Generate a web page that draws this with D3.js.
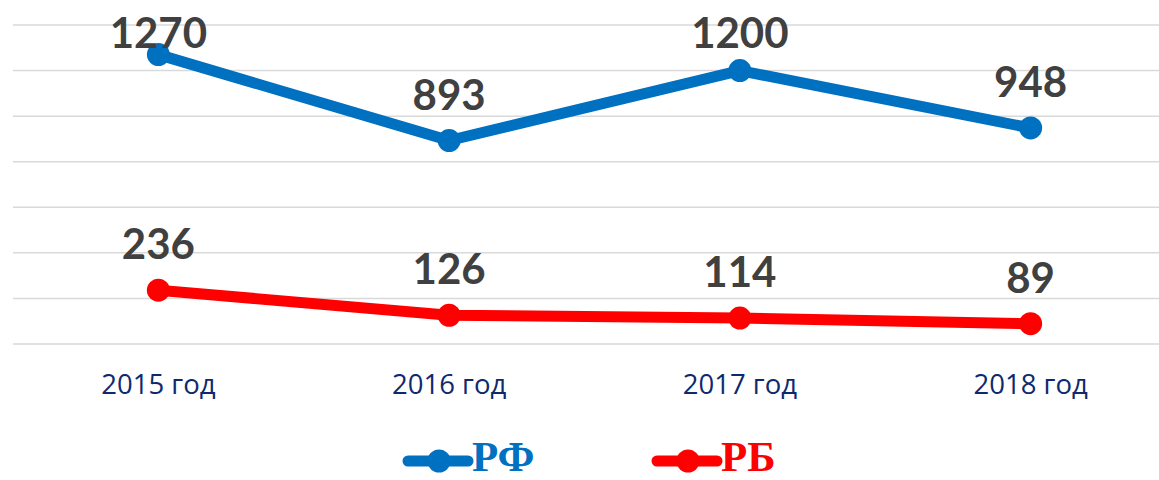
<!DOCTYPE html>
<html>
<head>
<meta charset="utf-8">
<script src="https://cdn.jsdelivr.net/npm/d3@7"></script>
<style>
  body { margin: 0; background: #fff; }
</style>
</head>
<body>
<script>
// data
const years = ["2015 год", "2016 год", "2017 год", "2018 год"];
const rfValues = [1270, 893, 1200, 948];
const rbValues = [236, 126, 114, 89];
const seriesNames = ["РФ", "РБ"];
const seriesColors = ["#0070c0", "#ff0000"];
const gridTicks = [0, 200, 400, 600, 800, 1000, 1200, 1400];

const w = 1159;
const h = 480;

const svg = d3.select("body").append("svg").attr("width", w).attr("height", h);

const x = d3.scaleBand().domain(years).range([13, 1176]);
const y = d3.scaleLinear().domain([0, 1400]).range([344, 25]);
const cx = (d) => x(d) + x.bandwidth() / 2;

// gridlines
svg
  .selectAll("line.grid")
  .data(gridTicks)
  .enter()
  .append("line")
  .attr("class", "grid")
  .attr("x1", 13)
  .attr("x2", w)
  .attr("y1", (d) => y(d))
  .attr("y2", (d) => y(d))
  .attr("stroke", "#d9d9d9")
  .attr("stroke-width", 1.5);

// category axis
const xAxis = svg
  .append("g")
  .attr("transform", "translate(0,344)")
  .call(d3.axisBottom(x).tickSize(0).tickPadding(0));
xAxis.select(".domain").remove();
xAxis
  .selectAll("text")
  .attr("y", 50)
  .attr("dy", null)
  .attr("font-family", "'Open Sans', 'Noto Sans', sans-serif")
  .attr("font-size", 27.5)
  .attr("fill", "#0e2a6e");

const series = [rfValues, rbValues].map((vals, i) => ({
  name: seriesNames[i],
  color: seriesColors[i],
  points: years.map((yr, j) => ({ year: yr, value: vals[j] })),
}));

const line = d3
  .line()
  .x((d) => cx(d.year))
  .y((d) => y(d.value));

const groups = svg.selectAll("g.series").data(series).enter().append("g").attr("class", "series");

groups
  .append("path")
  .attr("d", (d) => line(d.points))
  .attr("fill", "none")
  .attr("stroke", (d) => d.color)
  .attr("stroke-width", 11)
  .attr("stroke-linejoin", "round")
  .attr("stroke-linecap", "round");

groups.each(function (s) {
  const g = d3.select(this);
  g.selectAll("circle")
    .data(s.points)
    .enter()
    .append("circle")
    .attr("cx", (d) => cx(d.year))
    .attr("cy", (d) => y(d.value))
    .attr("r", 11.5)
    .attr("fill", s.color);

  g.selectAll("text")
    .data(s.points)
    .enter()
    .append("text")
    .attr("x", (d) => cx(d.year))
    .attr("y", (d) => Math.max(y(d.value) - 31, 48))
    .attr("text-anchor", "middle")
    .attr("font-family", "Lato, 'Open Sans', sans-serif")
    .attr("font-weight", "bold")
    .attr("font-size", 42)
    .attr("fill", "#404040")
    .text((d) => d.value);
});

// legend
const legendX = [408, 657];
const legend = svg
  .selectAll("g.legend")
  .data(series)
  .enter()
  .append("g")
  .attr("class", "legend")
  .attr("transform", (d, i) => `translate(${legendX[i]},461)`);

legend
  .append("line")
  .attr("x1", 0)
  .attr("x2", 60)
  .attr("stroke", (d) => d.color)
  .attr("stroke-width", 11)
  .attr("stroke-linecap", "round");

legend
  .append("circle")
  .attr("cx", 31)
  .attr("r", 11.5)
  .attr("fill", (d) => d.color);

legend
  .append("text")
  .attr("x", 64)
  .attr("y", 10)
  .attr("font-family", "'Liberation Serif', 'Times New Roman', serif")
  .attr("font-weight", "bold")
  .attr("font-size", 43)
  .attr("fill", (d) => d.color)
  .text((d) => d.name);
</script>
</body>
</html>
